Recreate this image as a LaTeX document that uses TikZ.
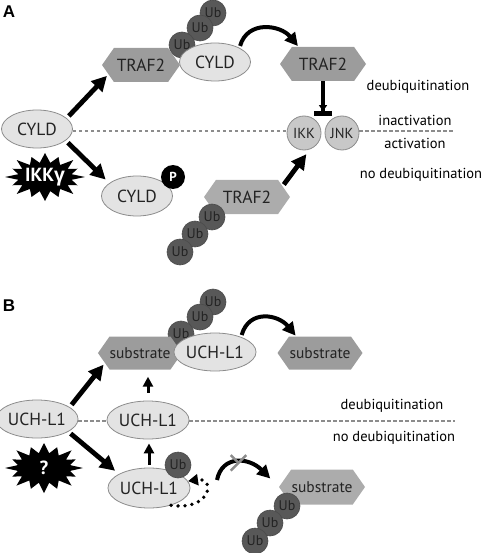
\documentclass[tikz,border=0pt]{standalone}
\usepackage{fontspec}
\setmainfont{PT Sans}
\newfontfamily\greekfont{Open Sans}
\newfontfamily\panelfont{Liberation Sans}
\usepackage{tikz}
\usetikzlibrary{arrows.meta, shapes.geometric, shapes.symbols, shapes.misc}

\definecolor{hexDark}{RGB}{156,156,156}
\definecolor{hexLight}{RGB}{172,172,172}
\definecolor{protFill}{RGB}{227,227,227}
\definecolor{edgeGray}{RGB}{140,140,140}
\definecolor{kinaseFill}{RGB}{200,200,200}
\definecolor{ubFill}{RGB}{88,88,88}
\definecolor{inkDark}{RGB}{35,35,35}

\tikzset{
  prot/.style={ellipse, draw=edgeGray, fill=protFill, line width=0.8pt, minimum width=71pt, minimum height=38pt, inner sep=0pt, text=inkDark, font=\fontsize{17.5}{19}\selectfont},
  hexa/.style={signal, signal to=east and west, signal pointer angle=110, fill=#1, minimum height=34pt, inner sep=0pt, text=inkDark, font=\fontsize{17.5}{19}\selectfont},
  ubtag/.style={circle, fill=ubFill, draw=ubFill!85!black, line width=0.6pt, minimum size=26pt, inner sep=0pt, text=inkDark, font=\fontsize{14}{15}\selectfont},
  kinase/.style={circle, fill=kinaseFill, draw=edgeGray, line width=0.8pt, minimum size=34pt, inner sep=0pt, text=inkDark, font=\fontsize{14.5}{15}\selectfont},
  phospho/.style={circle, fill=black, minimum size=24pt, inner sep=0pt, text=white, font=\fontsize{13}{14}\selectfont\bfseries},
  state/.style={font=\fontsize{14.5}{16}\selectfont, text=black, inner sep=0pt},
  panel/.style={font=\panelfont\bfseries\fontsize{17}{18}\selectfont, inner sep=0pt},
  burstlabel/.style={text=white, font=\fontsize{19}{20}\selectfont\bfseries, inner sep=0pt},
  divider/.style={draw=edgeGray, line width=1.3pt, dash pattern=on 3.5pt off 2.5pt},
  fatarrow/.style={line width=4.8pt, -{Triangle[length=15pt,width=15pt]}},
  thinarrow/.style={line width=3pt, -{Triangle[length=10pt,width=10pt]}},
  bendarrow/.style={line width=4pt, -{Triangle[length=13pt,width=13pt]}},
  teearrow/.style={line width=4.5pt, -{Triangle[length=6pt,width=8pt]Bar[width=18pt]}},
  dotarrow/.style={line width=3.8pt, line cap=round, dash pattern=on 0pt off 7pt, -{Triangle[length=10pt,width=11pt]}},
  xmark/.style={cross out, draw=edgeGray, line width=2.5pt, minimum size=13pt, inner sep=0pt},
}

% spiky burst behind the IKKgamma and ? labels
\newcommand{\drawburst}[3]{%
  \fill[black, shift={(#1)}] (0:{#2} and {#3})
    \foreach \i [evaluate=\i as \rx using {mod(\i,2)==1 ? 0.68*#2 : (mod(\i,4)==0 ? #2 : 0.88*#2)},
                 evaluate=\i as \ry using {mod(\i,2)==1 ? 0.6*#3 : (mod(\i,4)==0 ? #3 : 0.9*#3)}] in {1,...,31}
    { -- ({\i*11.25}:{\rx} and {\ry}) } -- cycle;
}

\begin{document}
\begin{tikzpicture}[x=1pt, y=-1pt]
\useasboundingbox (0,0) rectangle (484,553);

% ---------------- Panel A ----------------
\node[panel] (labA) at (9,12) {A};

% Ub chain on CYLD
\node[ubtag] (ubA1) at (213,13) {Ub};
\node[ubtag] (ubA2) at (200,28) {Ub};
\node[ubtag] (ubA3) at (182,45) {Ub};

% Proteins
\node[hexa=hexDark, minimum width=78pt] (trafL) at (141,65) {TRAF2};
\node[prot] (cyldT) at (215,62) {CYLD};
\node[hexa=hexDark, minimum width=86pt] (trafR) at (323,64) {TRAF2};
\node[prot] (cyldL) at (37,129) {CYLD};
\node[prot, minimum height=40pt] (cyldP) at (137,196) {CYLD};
\node[phospho] (pA) at (173,177) {P};
\node[kinase] (ikk) at (304,133) {IKK};
\node[kinase] (jnk) at (342,133) {JNK};
\node[hexa=hexLight, minimum width=86pt] (trafB) at (247,197) {TRAF2};
\node[ubtag] (ubA4) at (212,217) {Ub};
\node[ubtag] (ubA5) at (195,234) {Ub};
\node[ubtag] (ubA6) at (180,252) {Ub};

% IKKgamma burst
\drawburst{45,177}{40}{24}
\node[burstlabel] (ikkg) at (45,177) {IKK{\greekfont γ}};

% Dashed divider
\coordinate (endA) at (455,131);
\draw[divider] (cyldL.east |- endA) -- (ikk.west |- endA) (jnk.east |- endA) -- (endA);

% State labels
\node[state] (deubA) at (418,87) {deubiquitination};
\node[state] (inact) at (415,120) {inactivation};
\node[state] (act) at (415,143) {activation};
\node[state] (nodeubA) at (421,175) {no deubiquitination};

% Arrows
\draw[fatarrow, shorten <=3pt, shorten >=2pt] (cyldL.20) -- (trafL.196);
\draw[fatarrow, shorten <=3pt, shorten >=5pt] (cyldL.-22) -- (cyldP.155);
\draw[bendarrow, shorten <=2pt, shorten >=1pt] (cyldT.30) .. controls +(8,-28) and +(-18,-22) .. (trafR.145);
\draw[teearrow] (trafR.south) -- (trafR.south |- ikk.north);
\draw[fatarrow, shorten <=2pt, shorten >=6pt] (trafB.17) -- (ikk.-70);

% ---------------- Panel B ----------------
\node[panel] (labB) at (9,306) {B};

% Ub chain on UCH-L1
\node[ubtag] (ubB1) at (213,302) {Ub};
\node[ubtag] (ubB2) at (200,317) {Ub};
\node[ubtag] (ubB3) at (181,334) {Ub};

% Proteins
\node[hexa=hexDark, minimum width=77pt, minimum height=33pt, font=\fontsize{15.5}{17}\selectfont] (subL) at (140,353) {substrate};
\node[prot] (uchT) at (215,352) {UCH-L1};
\node[hexa=hexDark, minimum width=85pt, minimum height=33pt, font=\fontsize{15.5}{17}\selectfont] (subR) at (320,353) {substrate};
\node[prot] (uchL) at (37,419) {UCH-L1};
\node[prot] (uchM) at (148,420) {UCH-L1};
\node[prot, minimum height=40pt] (uchB) at (149,488) {UCH-L1};
\node[ubtag] (ubB) at (178,465) {Ub};
\node[hexa=hexLight, minimum width=86pt, minimum height=35pt, font=\fontsize{15.5}{17}\selectfont] (subB) at (322,487) {substrate};
\node[ubtag] (ubB4) at (287,506) {Ub};
\node[ubtag] (ubB5) at (270,523) {Ub};
\node[ubtag] (ubB6) at (255,541) {Ub};

% unknown burst
\drawburst{44,468}{39}{25}
\node[burstlabel] (qmark) at (44,468) {?};

% Dashed divider
\coordinate (endB) at (455,421);
\draw[divider] (uchL.east |- endB) -- (uchM.west |- endB) (uchM.east |- endB) -- (endB);

% State labels
\node[state] (deubB) at (392,406) {deubiquitination};
\node[state] (nodeubB) at (394,438) {no deubiquitination};

% Arrows
\draw[fatarrow, shorten <=3pt, shorten >=2pt] (uchL.20) -- (subL.196);
\draw[fatarrow, shorten <=3pt, shorten >=5pt] (uchL.-22) -- (uchB.155);
\draw[thinarrow, shorten <=8pt, shorten >=7pt] (uchM.north) -- (uchM.north |- subL.south);
\draw[thinarrow, shorten <=3pt, shorten >=4pt] (uchB.north) -- (uchB.north |- uchM.south);
\draw[bendarrow, shorten <=2pt, shorten >=1pt] (uchT.30) .. controls +(8,-28) and +(-18,-22) .. (subR.145);
\draw[dotarrow] (uchB.-38) .. controls +(40,6) and +(28,-4) .. (uchB.10);
\coordinate (failStart) at (217,480);
\draw[bendarrow, shorten >=12pt] (failStart) .. controls +(5,-25) and +(-30,-30) .. (subB.west)
  node[pos=0.5, xmark] (failX) {};

\end{tikzpicture}
\end{document}
